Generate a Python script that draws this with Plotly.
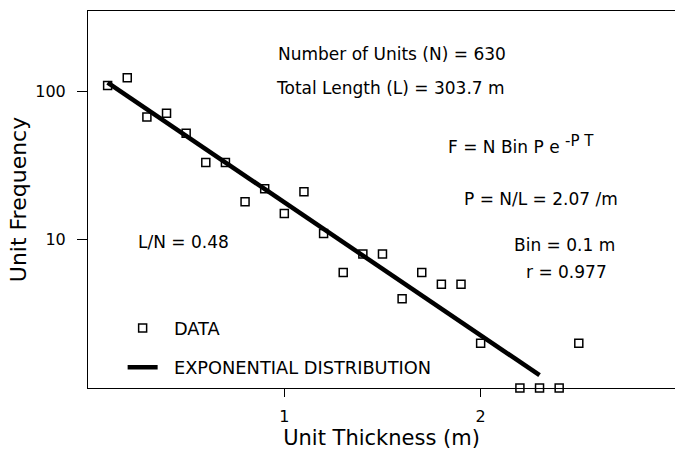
import plotly.graph_objects as go

# Binned unit thickness (m) and observed counts per 0.1 m bin
thickness = [0.1, 0.2, 0.3, 0.4, 0.5, 0.6, 0.7, 0.8, 0.9, 1.0, 1.1, 1.2,
             1.3, 1.4, 1.5, 1.6, 1.7, 1.8, 1.9, 2.0, 2.2, 2.3, 2.4, 2.5]
frequency = [109, 123, 67, 71, 52, 33, 33, 18, 22, 15, 21, 11,
             6, 8, 8, 4, 6, 5, 5, 2, 1, 1, 1, 2]

# Fitted exponential distribution (straight on log axis): end points
fit_thickness = [0.1, 2.3]
fit_frequency = [114, 1.22]

x_ticks = [1, 2]
y_ticks = [10, 100]
y_tick_labels = ["10", "100"]

FONT = "DejaVu Sans"
PAD = "\u00a0\u00a0"

fig = go.Figure()

fig.add_trace(go.Scatter(
    x=thickness, y=frequency, mode="markers", name=PAD + "DATA",
    legendgroup="a",
    marker=dict(symbol="square-open", size=8, color="black",
                line=dict(width=1.5, color="black")),
    cliponaxis=False,
))

fig.add_trace(go.Scatter(
    x=fit_thickness, y=fit_frequency, mode="lines",
    name=PAD + "EXPONENTIAL DISTRIBUTION", legendgroup="b",
    line=dict(color="black", width=4.5),
    cliponaxis=False,
))

notes = [
    ("Number of Units (N) = 630", 0.518, 0.886),
    ("Total Length (L) = 303.7 m", 0.516, 0.796),
    ("F = N Bin P e <sup><span style='font-size:15px'>-P T</span></sup>",
     0.738, 0.645),
    ("P = N/L = 2.07 /m", 0.771, 0.501),
    ("Bin = 0.1 m", 0.812, 0.379),
    ("r = 0.977", 0.815, 0.308),
    ("L/N = 0.48", 0.163, 0.387),
]
annotations = [
    dict(text=t, x=x, y=y, xref="paper", yref="paper", showarrow=False,
         xanchor="center", yanchor="middle",
         font=dict(family=FONT, size=17, color="black"))
    for t, x, y in notes
]

fig.update_layout(
    width=675, height=455,
    margin=dict(l=88, r=0, t=11, b=67),
    paper_bgcolor="white", plot_bgcolor="white",
    font=dict(family=FONT, color="black"),
    showlegend=True,
    legend=dict(
        x=0.059, y=0.207, xanchor="left", yanchor="top",
        bgcolor="rgba(0,0,0,0)", borderwidth=0,
        font=dict(family=FONT, size=17.8, color="black"),
        traceorder="grouped", tracegroupgap=13,
    ),
    annotations=annotations,
    xaxis=dict(
        range=[0, 2.99], tickvals=x_ticks, ticktext=[str(v) for v in x_ticks],
        showgrid=False, zeroline=False,
        showline=True, linecolor="black", linewidth=1, mirror=True,
        ticks="outside", ticklen=8, tickcolor="black",
        ticklabelstandoff=6,
        tickfont=dict(family=FONT, size=16, color="black"),
        title=dict(text="Unit Thickness (m)", standoff=4,
                   font=dict(family=FONT, size=21, color="black")),
    ),
    yaxis=dict(
        type="log", range=[0, 2.54], tickvals=y_ticks, ticktext=y_tick_labels,
        showgrid=False, zeroline=False,
        showline=True, linecolor="black", linewidth=1,
        ticks="outside", ticklen=10, tickcolor="black",
        ticklabelstandoff=8,
        tickfont=dict(family=FONT, size=16, color="black"),
        title=dict(text="Unit Frequency", standoff=2,
                   font=dict(family=FONT, size=22, color="black")),
    ),
)

fig.write_html("out.html")
